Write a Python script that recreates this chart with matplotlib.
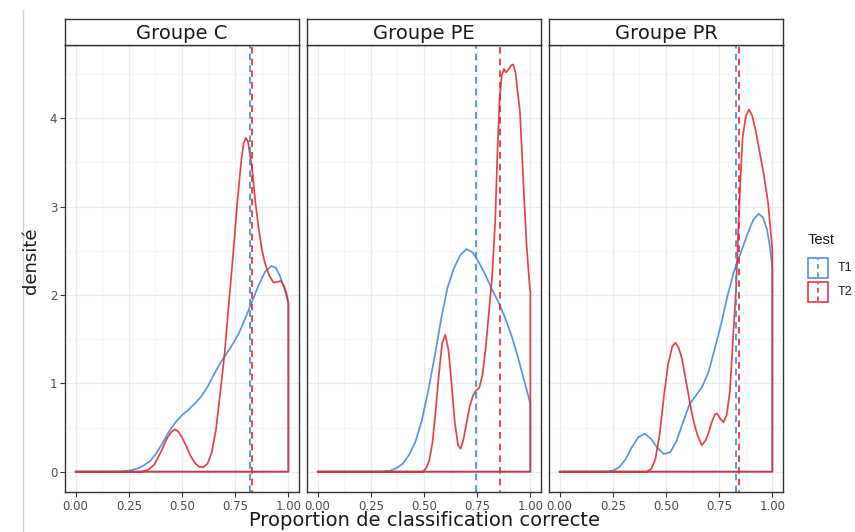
import numpy as np
import matplotlib.pyplot as plt
from matplotlib.patches import Rectangle
from matplotlib.lines import Line2D

# facet titles and series names
groups = ["Groupe C", "Groupe PE", "Groupe PR"]
tests = ["T1", "T2"]

# density curves (x = proportion, y = density)
c_t1_x = [0.0, 0.20, 0.23, 0.26, 0.29, 0.32, 0.35, 0.38, 0.41, 0.44, 0.47, 0.50, 0.53, 0.56, 0.59, 0.62, 0.65,
          0.68, 0.71, 0.74, 0.77, 0.80, 0.83, 0.86, 0.89, 0.92, 0.94, 0.96, 0.98, 1.0, 1.0]
c_t1_y = [0.0, 0.0, 0.005, 0.015, 0.035, 0.07, 0.12, 0.21, 0.33, 0.46, 0.56, 0.64, 0.70, 0.77, 0.85, 0.96, 1.10,
          1.23, 1.34, 1.45, 1.58, 1.75, 1.93, 2.11, 2.26, 2.33, 2.31, 2.22, 2.08, 1.91, 0.0]
c_t2_x = [0.0, 0.31, 0.34, 0.37, 0.40, 0.43, 0.45, 0.465, 0.48, 0.50, 0.52, 0.54, 0.56, 0.58, 0.60, 0.62, 0.64,
          0.66, 0.68, 0.70, 0.72, 0.74, 0.76, 0.78, 0.79, 0.80, 0.81, 0.83, 0.845, 0.86, 0.875, 0.89, 0.91, 0.93,
          0.95, 0.965, 0.98, 0.99, 1.0, 1.0]
c_t2_y = [0.0, 0.0, 0.02, 0.08, 0.22, 0.38, 0.45, 0.48, 0.46, 0.39, 0.29, 0.18, 0.10, 0.055, 0.05, 0.09, 0.22,
          0.48, 0.90, 1.33, 1.90, 2.45, 3.05, 3.55, 3.72, 3.78, 3.74, 3.42, 3.05, 2.76, 2.52, 2.36, 2.22, 2.14,
          2.15, 2.16, 2.10, 2.03, 1.91, 0.0]

pe_t1_x = [0.0, 0.30, 0.34, 0.37, 0.40, 0.43, 0.46, 0.49, 0.52, 0.55, 0.58, 0.61, 0.64, 0.67, 0.70, 0.73, 0.76,
           0.79, 0.82, 0.85, 0.88, 0.91, 0.94, 0.97, 1.0, 1.0]
pe_t1_y = [0.0, 0.0, 0.01, 0.04, 0.09, 0.19, 0.34, 0.58, 0.92, 1.30, 1.72, 2.08, 2.30, 2.45, 2.52, 2.48, 2.36,
           2.22, 2.06, 1.92, 1.75, 1.55, 1.31, 1.04, 0.77, 0.0]
pe_t2_x = [0.0, 0.495, 0.51, 0.525, 0.54, 0.555, 0.57, 0.585, 0.60, 0.615, 0.63, 0.645, 0.66, 0.672, 0.685, 0.70,
           0.715, 0.73, 0.745, 0.76, 0.775, 0.79, 0.805, 0.82, 0.835, 0.845, 0.855, 0.865, 0.876, 0.886, 0.896,
           0.91, 0.92, 0.93, 0.94, 0.951, 0.966, 0.982, 0.998, 1.0, 1.0]
pe_t2_y = [0.0, 0.0, 0.04, 0.13, 0.33, 0.70, 1.10, 1.45, 1.55, 1.38, 0.98, 0.55, 0.30, 0.26, 0.36, 0.55,
           0.74, 0.86, 0.92, 0.95, 1.10, 1.40, 1.80, 2.20, 2.85, 3.60, 4.20, 4.48, 4.56, 4.52, 4.55,
           4.60, 4.61, 4.52, 4.30, 4.08, 3.33, 2.57, 2.06, 2.05, 0.0]

pr_t1_x = [0.0, 0.22, 0.25, 0.28, 0.31, 0.34, 0.37, 0.40, 0.43, 0.46, 0.49, 0.52, 0.55, 0.58, 0.61, 0.64, 0.67,
           0.70, 0.73, 0.76, 0.79, 0.82, 0.85, 0.88, 0.91, 0.935, 0.955, 0.975, 0.99, 1.0, 1.0]
pr_t1_y = [0.0, 0.0, 0.01, 0.05, 0.14, 0.28, 0.39, 0.43, 0.37, 0.27, 0.20, 0.22, 0.35, 0.56, 0.76, 0.86, 0.96,
           1.13, 1.40, 1.68, 2.00, 2.27, 2.47, 2.67, 2.85, 2.92, 2.88, 2.74, 2.52, 2.30, 0.0]
pr_t2_x = [0.0, 0.41, 0.43, 0.45, 0.47, 0.49, 0.51, 0.53, 0.545, 0.56, 0.575, 0.59, 0.605, 0.62, 0.635, 0.65,
           0.668, 0.685, 0.70, 0.715, 0.73, 0.74, 0.755, 0.77, 0.785, 0.80, 0.81, 0.82, 0.83, 0.84, 0.85, 0.86,
           0.875, 0.89, 0.905, 0.92, 0.94, 0.96, 0.98, 1.0, 1.0]
pr_t2_y = [0.0, 0.0, 0.03, 0.14, 0.42, 0.85, 1.22, 1.42, 1.46, 1.40, 1.28, 1.08, 0.88, 0.68, 0.52, 0.40,
           0.30, 0.35, 0.44, 0.56, 0.65, 0.66, 0.60, 0.56, 0.64, 0.90, 1.30, 1.70, 2.10, 2.75, 3.30, 3.78,
           4.02, 4.10, 4.03, 3.88, 3.62, 3.36, 3.04, 2.51, 0.0]

# group means (dashed vertical lines)
mean_t1 = [0.819, 0.745, 0.831]
mean_t2 = [0.830, 0.857, 0.842]

curves = [
    ((c_t1_x, c_t1_y), (c_t2_x, c_t2_y)),
    ((pe_t1_x, pe_t1_y), (pe_t2_x, pe_t2_y)),
    ((pr_t1_x, pr_t1_y), (pr_t2_x, pr_t2_y)),
]

blue = "#3F88D6"
red = "#DD2A30"
colors = [blue, red]

fig = plt.figure(figsize=(8.55, 5.32), dpi=100)
W, H = 855, 532

lefts = [65, 307, 549]
pw = 234
top, bottom = 45, 492
strip_h = 26

for i, g in enumerate(groups):
    ax = fig.add_axes([lefts[i] / W, 1 - bottom / H, pw / W, (bottom - top) / H])
    ax.set_xlim(-0.05, 1.05)
    ax.set_ylim(-0.23, 4.83)
    ax.set_xticks([0, 0.25, 0.5, 0.75, 1.0])
    ax.set_xticklabels(["0.00", "0.25", "0.50", "0.75", "1.00"])
    ax.set_xticks(np.arange(0.125, 1.0, 0.25), minor=True)
    ax.set_yticks([0, 1, 2, 3, 4])
    ax.set_yticks(np.arange(0.5, 4.6, 1.0), minor=True)
    ax.grid(which="major", color="#EBEBEB", linewidth=0.9)
    ax.grid(which="minor", color="#F3F3F3", linewidth=0.6)
    ax.set_axisbelow(True)
    ax.tick_params(which="minor", length=0)
    ax.tick_params(which="major", length=3.5, color="#333333", labelcolor="#4D4D4D",
                   labelsize=8.5, pad=2)
    if i > 0:
        ax.tick_params(axis="y", labelleft=False, length=0)
    for s in ax.spines.values():
        s.set_color("#333333")
        s.set_linewidth(1.0)

    for k in range(2):
        x, y = curves[i][k]
        ax.fill(x, y, fill=False, edgecolor=colors[k], linewidth=1.25, alpha=0.88,
                joinstyle="round")
    ax.axvline(mean_t1[i], color=blue, linestyle=(0, (4, 3)), linewidth=1.2)
    ax.axvline(mean_t2[i], color=red, linestyle=(3, (4, 3)), linewidth=1.2)

    # facet strip
    sax = fig.add_axes([lefts[i] / W, 1 - top / H, pw / W, strip_h / H])
    sax.set_xticks([])
    sax.set_yticks([])
    for s in sax.spines.values():
        s.set_color("#333333")
        s.set_linewidth(1.0)
    sax.text(0.5, 0.45, g, ha="center", va="center", fontsize=14, color="#1A1A1A",
             transform=sax.transAxes)

fig.text((65 + 549 + pw) / 2 / W, 1 - 521 / H, "Proportion de classification correcte",
         ha="center", va="center", fontsize=14, color="#1A1A1A")
fig.text(31 / W, 1 - 261 / H, "densité", rotation=90, ha="center", va="center",
         fontsize=13, color="#1A1A1A")

# legend
fig.text(808 / W, 1 - 240 / H, "Test", ha="left", va="center", fontsize=10.5,
         family="Liberation Sans", color="#1A1A1A")
for k, t in enumerate(tests):
    yc = 268 + 24 * k
    fig.add_artist(Rectangle((808 / W, 1 - (yc + 10) / H), 20 / W, 20 / H,
                             transform=fig.transFigure, fill=False,
                             edgecolor=colors[k], linewidth=1.1))
    fig.add_artist(Line2D([818 / W, 818 / W], [1 - (yc + 9) / H, 1 - (yc - 9) / H],
                          transform=fig.transFigure, color=colors[k],
                          linestyle=(0, (3, 2.5)), linewidth=1.1))
    fig.text(838 / W, 1 - yc / H, t, ha="left", va="center", fontsize=9,
             family="Liberation Sans", color="#1A1A1A")

# thin grey rule at the left edge of the screenshot
fig.add_artist(Line2D([23 / W, 23 / W], [0, 1 - 10 / H], transform=fig.transFigure,
                      color="#D0D0D0", linewidth=1.0))

fig.savefig("out.png", dpi=100)
